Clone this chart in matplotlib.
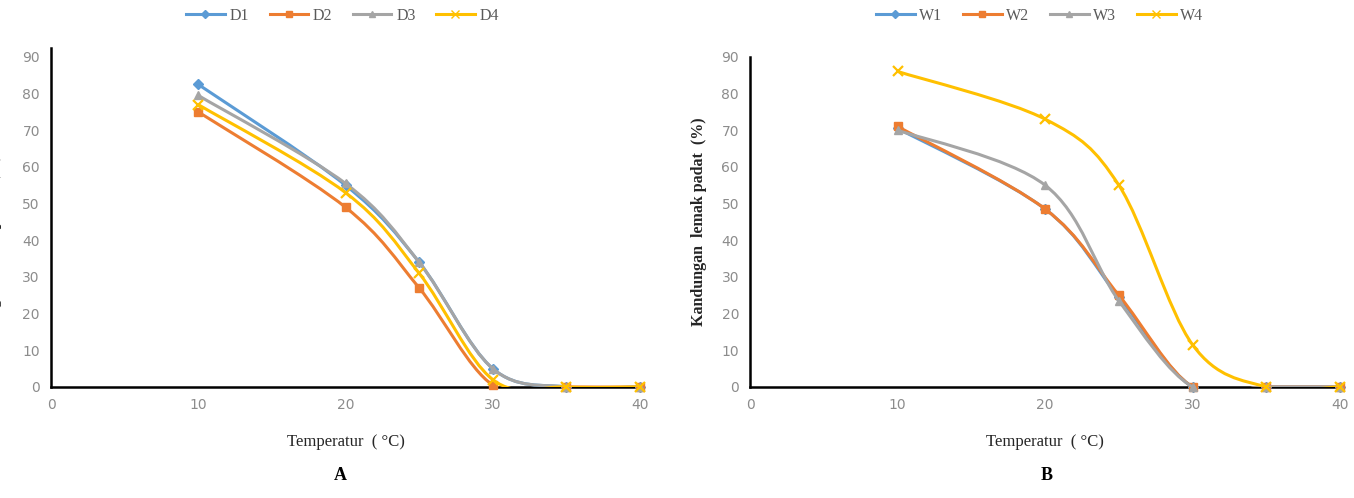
import matplotlib.pyplot as plt
from matplotlib.path import Path
from matplotlib.patches import PathPatch
from matplotlib.lines import Line2D

# Temperature points (°C)
temps = [10, 20, 25, 30, 35, 40]

# Panel A series
d1 = [82.5, 55.0, 34.0, 5.0, 0.0, 0.0]
d2 = [75.0, 49.0, 27.0, 0.5, 0.0, 0.0]
d3 = [79.5, 55.5, 34.0, 5.0, 0.0, 0.0]
d4 = [77.0, 53.0, 31.0, 2.0, 0.0, 0.0]

# Panel B series
w1 = [70.5, 48.5, 24.5, 0.0, 0.0, 0.0]
w2 = [71.0, 48.5, 25.0, 0.0, 0.0, 0.0]
w3 = [70.0, 55.0, 23.5, 0.0, 0.0, 0.0]
w4 = [86.0, 73.0, 55.0, 11.5, 0.0, 0.0]

labels_a = ['D1', 'D2', 'D3', 'D4']
labels_b = ['W1', 'W2', 'W3', 'W4']

colors = ['#5B9BD5', '#ED7D31', '#A5A5A5', '#FFC000']
markers = ['D', 's', '^', 'x']
msizes = [5, 6, 6, 7]

tick_color = '#8C8C8C'
serif = ['Liberation Serif', 'DejaVu Serif']


def smooth_path(x, y):
    # Excel-like smoothed line: cubic Bezier through the data points
    pts = list(zip(x, y))
    n = len(pts)
    verts = [pts[0]]
    codes = [Path.MOVETO]
    for i in range(n - 1):
        p0 = pts[max(i - 1, 0)]
        p1 = pts[i]
        p2 = pts[i + 1]
        p3 = pts[min(i + 2, n - 1)]
        c1 = (p1[0] + (p2[0] - p0[0]) / 6, p1[1] + (p2[1] - p0[1]) / 6)
        c2 = (p2[0] - (p3[0] - p1[0]) / 6, p2[1] - (p3[1] - p1[1]) / 6)
        verts += [c1, c2, p2]
        codes += [Path.CURVE4] * 3
    return Path(verts, codes)


def draw_panel(ax, series, labels, ymax, legend_x):
    for k, (vals, lab) in enumerate(zip(series, labels)):
        patch = PathPatch(smooth_path(temps, vals), fill=False,
                          edgecolor=colors[k], lw=2.2, zorder=3 + k,
                          capstyle='round', joinstyle='round')
        ax.add_patch(patch)
        mew = 1.6 if markers[k] == 'x' else 1
        ax.plot(temps, vals, ls='none', marker=markers[k], ms=msizes[k],
                color=colors[k], mew=mew, zorder=3.5 + k, clip_on=False)

    ax.set_xlim(0, 40)
    ax.set_ylim(0, ymax)
    ax.set_xticks([0, 10, 20, 30, 40])
    ax.set_yticks(range(0, 100, 10))
    ax.tick_params(length=0, labelsize=10, colors=tick_color, pad=8)
    for s in ['top', 'right']:
        ax.spines[s].set_visible(False)
    for s in ['left', 'bottom']:
        ax.spines[s].set_linewidth(1.8)
        ax.spines[s].set_color('black')
        ax.spines[s].set_zorder(1)

    handles = [Line2D([], [], color=colors[k], marker=markers[k],
                      ms=msizes[k] - 1, lw=2.2) for k in range(4)]
    fig.legend(handles, labels, loc='center', bbox_to_anchor=(legend_x, 0.968),
               ncol=4, frameon=False, handlelength=2.4, columnspacing=1.3,
               handletextpad=0.3, prop={'family': serif, 'size': 11.5},
               labelcolor='#595959')
    ax.set_xlabel('Temperatur  ( °C)', family=serif, fontsize=12,
                  color='#262626', labelpad=16)


fig = plt.figure(figsize=(13.54, 4.98), dpi=100)
ax_a = fig.add_axes([0.0377, 0.223, 0.435, 0.681])
ax_b = fig.add_axes([0.554, 0.223, 0.4357, 0.663])

draw_panel(ax_a, [d1, d2, d3, d4], labels_a, 92.5, 0.253)
draw_panel(ax_b, [w1, w2, w3, w4], labels_b, 90, 0.768)

ax_b.set_ylabel('Kandungan  lemak padat  (%)', family=serif, fontsize=11.5,
                color='#262626', fontweight='bold', labelpad=10)
# left panel label is cut off by the figure edge in the original
fig.text(-0.0045, 0.48, 'Kandungan  lemak padat  (%)', family=serif,
         fontsize=11.5, color='#262626', fontweight='bold',
         rotation=90, ha='center', va='center')

fig.text(0.251, 0.045, 'A', family=serif, fontsize=13, fontweight='bold',
         ha='center', va='center')
fig.text(0.773, 0.045, 'B', family=serif, fontsize=13, fontweight='bold',
         ha='center', va='center')

fig.savefig('out.png', dpi=100)
